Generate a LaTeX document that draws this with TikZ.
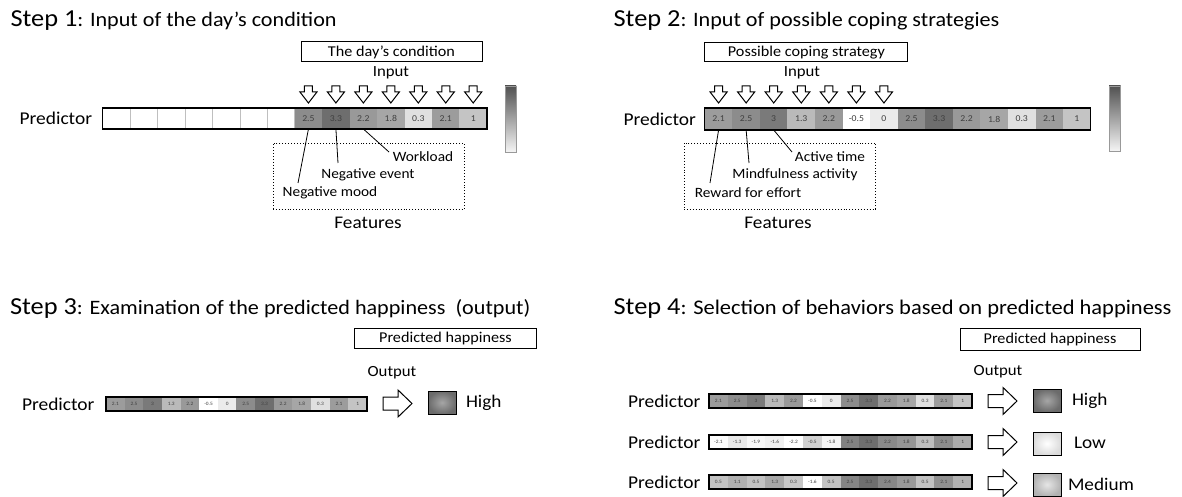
\documentclass[tikz,border=0pt]{standalone}
\usepackage{fontspec}
\setmainfont{Carlito}[FakeStretch=1.08]
\usetikzlibrary{calc}
\newcommand{\fsz}[1]{\fontsize{#1}{#1}\selectfont}
\tikzset{
  every node/.style={inner sep=0pt, outer sep=0pt},
  cellbox/.style={draw=none, text=black!75},
  blankcell/.style={draw=black!25, fill=white, line width=0.5pt},
  barline/.style={draw=black, line width=1.2pt},
  labelbox/.style={draw=black, line width=1pt, fill=white, font=\fsz{15}},
  featbox/.style={draw=black, dotted, line width=0.9pt},
  featline/.style={draw=black, line width=0.8pt},
  hollow/.style={draw=black, fill=white, line width=1pt, line join=miter},
  sqbox/.style={draw=black, line width=1pt, minimum width=28pt, minimum height=23pt},
  steptitle/.style={anchor=base west},
  predlabel/.style={anchor=west, font=\fsz{18}},
  featlabel/.style={font=\fsz{14.2}},
  smalllabel/.style={font=\fsz{15.5}},
  levellabel/.style={anchor=west, font=\fsz{17.8}},
  cbar/.style={draw=black!40, line width=0.6pt, top color=black!68, bottom color=black!4},
}
% #1 name, #2 x0, #3 ytop, #4 cell width, #5 height, #6 min value, #7 font size, #8 first index, #9 values
\newcommand{\predrow}[9]{%
  \foreach \v [count=\i from #8] in {#9}{%
    \pgfmathtruncatemacro\lvl{round(57*(\v-(#6))/(3.3-(#6)))}%
    \node[cellbox, fill=black!\lvl, minimum width=#4pt, minimum height=#5pt, font=\fsz{#7}]
      (#1-\i) at ({#2+(\i+0.5)*#4},{#3+#5/2}) {\v};
  }%
}
% hollow down arrow: centre x, top y
\newcommand{\downarr}[2]{%
  \draw[hollow] ({#1-4},#2) -- ({#1+4},#2) -- ({#1+4},{#2+6}) -- ({#1+8.5},{#2+6})
    -- (#1,{#2+17}) -- ({#1-8.5},{#2+6}) -- ({#1-4},{#2+6}) -- cycle;}
% hollow right arrow: left x, centre y
\newcommand{\rightarr}[2]{%
  \draw[hollow] (#1,{#2-6.5}) -- ({#1+15},{#2-6.5}) -- ({#1+15},{#2-13.5}) -- ({#1+29},#2)
    -- ({#1+15},{#2+13.5}) -- ({#1+15},{#2+6.5}) -- (#1,{#2+6.5}) -- cycle;}

\begin{document}
\begin{tikzpicture}[x=1pt,y=-1pt]
\useasboundingbox (0,0) rectangle (1182,497);

% ================= Step 1 =================
\node[steptitle] (t1) at (10.5,27) {\fsz{24.4}Step 1\fsz{20.5}: Input of the day’s condition};
\node[labelbox, minimum width=181pt, minimum height=20pt] (b1) at (391.5,52) {The day’s condition};
\node[smalllabel] (in1) at (391,73) {Input};
\node[predlabel] (p1) at (19.6,118.5) {Predictor};
\foreach \i in {0,...,6}{
  \node[blankcell, minimum width=27.46pt, minimum height=21pt] (s1-\i) at ({102.5+(\i+0.5)*27.46},118.5) {};
}
\predrow{s1}{102.5}{108}{27.46}{21}{-0.5}{9}{7}{2.5,3.3,2.2,1.8,0.3,2.1,1}
\draw[barline] (102.5,108) rectangle (487,129);
\foreach \i in {7,...,13}{\pgfmathsetmacro\cx{102.5+(\i+0.5)*27.46}\downarr{\cx}{86}}
\path[cbar] (505,86) rectangle (516,152);
\node[featbox, minimum width=191pt, minimum height=66pt] (fb1) at (368.5,176) {};
\node[font=\fsz{17.8}] (f1) at (368,223) {Features};
\node[featlabel] (wl) at (423,157) {Workload};
\node[featlabel] (ne) at (368,175) {Negative event};
\node[featlabel] (nm) at (330,193) {Negative mood};
\coordinate (wl-e) at (389,152);
\coordinate (ne-e) at (338,163);
\coordinate (nm-e) at (298,183);
\draw[featline] (s1-9.south) -- (wl-e);
\draw[featline] (s1-8.south) -- (ne-e);
\draw[featline] (s1-7.south) -- (nm-e);

% ================= Step 2 =================
\node[steptitle] (t2) at (613.6,27) {\fsz{24.4}Step 2\fsz{20.5}: Input of possible coping strategies};
\node[labelbox, minimum width=203pt, minimum height=19pt] (b2) at (806.4,52.5) {Possible coping strategy};
\node[smalllabel] (in2) at (802,73) {Input};
\node[predlabel] (p2) at (623.5,119) {Predictor};
\predrow{s2}{704.8}{108}{27.56}{22}{-0.5}{9}{0}{2.1,2.5,3,1.3,2.2,-0.5,0,2.5,3.3,2.2,1.8,0.3,2.1,1}
\draw[barline] (704.8,108) rectangle (1090.6,130);
\foreach \i in {0,...,6}{\pgfmathsetmacro\cx{704.8+(\i+0.5)*27.56}\downarr{\cx}{86}}
\path[cbar] (1109,86) rectangle (1120.7,151);
\node[featbox, minimum width=191.5pt, minimum height=66pt] (fb2) at (779.75,176) {};
\node[font=\fsz{17.8}] (f2) at (778,223) {Features};
\node[featlabel] (at) at (830,157) {Active time};
\node[featlabel] (ma) at (795,175) {Mindfulness activity};
\node[featlabel] (rf) at (748,193) {Reward for effort};
\coordinate (at-e) at (792,152);
\coordinate (ma-e) at (749,163);
\coordinate (rf-e) at (710,183);
\draw[featline] (s2-2.south) -- (at-e);
\draw[featline] (s2-1.south) -- (ma-e);
\draw[featline] (s2-0.south) -- (rf-e);

% ================= Step 3 =================
\node[steptitle] (t3) at (10,314) {\fsz{24.4}Step 3\fsz{20.5}: Examination of the predicted happiness\ \ (output)};
\node[labelbox, minimum width=182pt, minimum height=20pt] (b3) at (445.5,338) {Predicted happiness};
\node[smalllabel] (o3) at (392,373) {Output};
\node[predlabel] (p3) at (22,404) {Predictor};
\predrow{s3}{106}{397}{18.64}{14}{-0.5}{5}{0}{2.1,2.5,3,1.3,2.2,-0.5,0,2.5,3.3,2.2,1.8,0.3,2.1,1}
\draw[barline] (106,397) rectangle (367,411);
\rightarr{383}{403.5}
\node[sqbox, outer color=black!58, inner color=black!35] (q3) at (442,402.5) {};
\node[levellabel] (h3) at (466,403) {High};

% ================= Step 4 =================
\node[steptitle] (t4) at (613.6,314) {\fsz{24.4}Step 4\fsz{20.8}: Selection of behaviors based on predicted happiness};
\node[labelbox, minimum width=180pt, minimum height=22pt] (b4) at (1050,339) {Predicted happiness};
\node[smalllabel] (o4) at (998,372) {Output};
\node[predlabel] (p4a) at (628,401.5) {Predictor};
\node[predlabel] (p4b) at (628,442.5) {Predictor};
\node[predlabel] (p4c) at (628,482) {Predictor};
\predrow{ra}{709}{394}{18.79}{14}{-0.5}{5}{0}{2.1,2.5,3,1.3,2.2,-0.5,0,2.5,3.3,2.2,1.8,0.3,2.1,1}
\predrow{rb}{709}{435}{18.79}{14}{-2.2}{5}{0}{-2.1,-1.3,-1.9,-1.6,-2.2,-0.5,-1.8,2.5,3.3,2.2,1.8,0.3,2.1,1}
\predrow{rc}{709}{475}{18.79}{14}{-1.6}{5}{0}{0.5,1.1,0.5,1.3,0.3,-1.6,0.5,2.5,3.3,2.4,1.8,0.5,2.1,1}
\draw[barline] (709,394) rectangle (972,408);
\draw[barline] (709,435) rectangle (972,449);
\draw[barline] (709,475) rectangle (972,489);
\rightarr{988}{401}
\rightarr{988}{442}
\rightarr{988}{483}
\node[sqbox, outer color=black!58, inner color=black!35] (qa) at (1047,400.5) {};
\node[sqbox, outer color=black!14, inner color=white] (qb) at (1047,443.5) {};
\node[sqbox, outer color=black!30, inner color=black!10] (qc) at (1047,484.5) {};
\node[levellabel] (la) at (1072,401) {High};
\node[levellabel] (lb) at (1074,443) {Low};
\node[levellabel] (lc) at (1068,484) {Medium};
\end{tikzpicture}
\end{document}
